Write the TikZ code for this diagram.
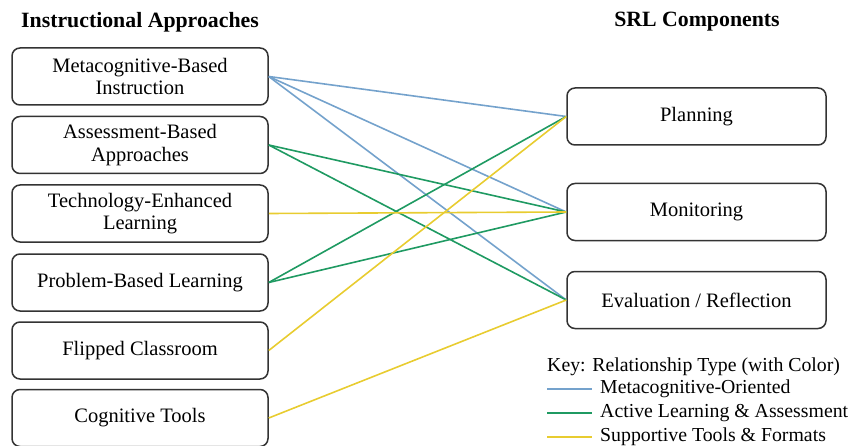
\documentclass[tikz,border=0pt]{standalone}
\usepackage{fontspec}
\setmainfont{Liberation Serif}
\definecolor{cblue}{HTML}{74A2CC}
\definecolor{cgreen}{HTML}{1F9A62}
\definecolor{cyellow}{HTML}{E8CC30}
\definecolor{cborder}{HTML}{333333}
\tikzset{
  box/.style={draw=cborder, line width=1.5pt, rounded corners=8pt, minimum height=57pt, align=center, inner sep=0pt, font=\fontsize{20.5}{22.5}\selectfont},
  lbox/.style={box, minimum width=256pt},
  rbox/.style={box, minimum width=259pt},
  hdr/.style={font=\fontsize{21.8}{24}\selectfont\bfseries},
  lnk/.style={line width=1.6pt},
  keytxt/.style={font=\fontsize{19.8}{22}\selectfont, anchor=west, inner sep=0pt},
}
\begin{document}
\begin{tikzpicture}[x=1pt,y=-1pt]
\useasboundingbox (0,0) rectangle (850,446);
\node[hdr] (h1) at (140,22) {Instructional Approaches};
\node[hdr] (h2) at (697,22) {SRL Components};

\node[lbox] (a1) at (140,76.5) {Metacognitive-Based\\Instruction};
\node[lbox] (a2) at (140,145) {Assessment-Based\\Approaches};
\node[lbox] (a3) at (140,213.5) {Technology-Enhanced\\Learning};
\node[lbox] (a4) at (140,282.5) {Problem-Based Learning};
\node[lbox] (a5) at (140,350.5) {Flipped Classroom};
\node[lbox] (a6) at (140,418) {Cognitive Tools};

\node[rbox] (b1) at (696.5,116.5) {Planning};
\node[rbox] (b2) at (696.5,212) {Monitoring};
\node[rbox] (b3) at (696.5,300) {Evaluation / Reflection};

\draw[lnk,cblue] (a1.east) -- (b1.west);
\draw[lnk,cblue] (a1.east) -- (b2.west);
\draw[lnk,cblue] (a1.east) -- (b3.west);
\draw[lnk,cgreen] (a2.east) -- (b2.west);
\draw[lnk,cgreen] (a2.east) -- (b3.west);
\draw[lnk,cgreen] (a4.east) -- (b1.west);
\draw[lnk,cgreen] (a4.east) -- (b2.west);
\draw[lnk,cyellow] (a3.east) -- (b2.west);
\draw[lnk,cyellow] (a5.east) -- (b1.west);
\draw[lnk,cyellow] (a6.east) -- (b3.west);

\node[keytxt] (k0) at (547,367) {Key: Relationship Type (with Color)};
\coordinate (k1s) at (547,389); \coordinate (k1e) at (592,389);
\coordinate (k2s) at (547,413); \coordinate (k2e) at (592,413);
\coordinate (k3s) at (547,437); \coordinate (k3e) at (592,437);
\draw[lnk,cblue] (k1s) -- (k1e);
\draw[lnk,cgreen] (k2s) -- (k2e);
\draw[lnk,cyellow] (k3s) -- (k3e);
\node[keytxt] (k1) at (600,389) {Metacognitive-Oriented};
\node[keytxt] (k2) at (600,413) {Active Learning \& Assessment};
\node[keytxt] (k3) at (600,437) {Supportive Tools \& Formats};
\end{tikzpicture}
\end{document}
